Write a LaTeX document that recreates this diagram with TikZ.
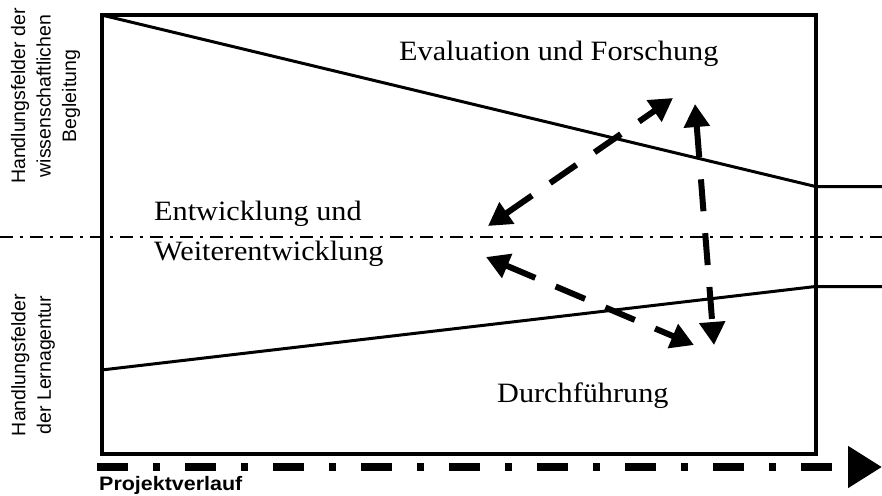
\documentclass[tikz,border=0pt]{standalone}
\usepackage{fontspec}
\setmainfont{Liberation Serif}
\setsansfont{Liberation Sans}
\usetikzlibrary{arrows.meta}
\begin{document}
\begin{tikzpicture}[x=1pt,y=-1pt,
  frame/.style={line width=4pt},
  border/.style={line width=3pt},
  midline/.style={line width=2pt, dash pattern=on 13pt off 7pt on 3pt off 7pt},
  flow/.style={line width=6pt, dash pattern=on 32pt off 22pt,
    {Triangle[length=23pt,width=25pt]}-{Triangle[length=23pt,width=25pt]}},
  timeline/.style={line width=8pt, dash pattern=on 31pt off 25pt on 7pt off 25pt,
    -{Triangle[length=34pt,width=40pt]}},
  serif/.style={font=\fontsize{28}{32}\selectfont, inner sep=0pt, anchor=base west},
  side/.style={font=\sffamily\fontsize{19.5}{25.5}\selectfont, align=center, rotate=90, inner sep=0pt},
]
\useasboundingbox (0,0) rectangle (882,495);
% frame and field borders
\coordinate (tl) at (101.5,15);
\coordinate (tr) at (815.5,186.5);
\coordinate (te) at (882,186.5);
\coordinate (bl) at (101.5,370);
\coordinate (br) at (815.5,286.5);
\coordinate (be) at (882,286.5);
\coordinate (ml) at (0,237);
\coordinate (mr) at (882,237);
\draw[midline] (ml) -- (mr);
\draw[frame] (101.5,15) rectangle (815.5,454);
\draw[border] (tl) -- (tr) -- (te);
\draw[border] (bl) -- (br) -- (be);
% texts
\node[serif] (eval) at (399,60) {\scalebox{1.08}[1]{Evaluation und Forschung}};
\node[serif] (ent1) at (154,220) {\scalebox{1.08}[1]{Entwicklung und}};
\node[serif] (ent2) at (154,260) {\scalebox{1.08}[1]{Weiterentwicklung}};
\node[serif] (durch) at (497,402) {\scalebox{1.08}[1]{Durchführung}};
\node[side] (lab1) at (45.5,96) {Handlungsfelder der\\wissenschaftlichen\\Begleitung};
\node[side] (lab2) at (33,365) {Handlungsfelder\\der Lernagentur};
\node[font=\sffamily\bfseries\fontsize{19.5}{22}\selectfont, anchor=base west, inner sep=0pt] (proj) at (99,490) {\scalebox{1.1}[1]{Projektverlauf}};
% interaction arrows
\coordinate (a1) at (488,226);
\coordinate (a2) at (673,98);
\coordinate (b1) at (486,257);
\coordinate (b2) at (694,345);
\coordinate (c1) at (695,104);
\coordinate (c2) at (714,345);
\draw[flow] (a1) -- (a2);
\draw[flow] (b1) -- (b2);
\draw[flow] (c1) -- (c2);
% time line
\coordinate (t0) at (97,467);
\coordinate (t1) at (882,467);
\draw[timeline] (t0) -- (t1);
\end{tikzpicture}
\end{document}
